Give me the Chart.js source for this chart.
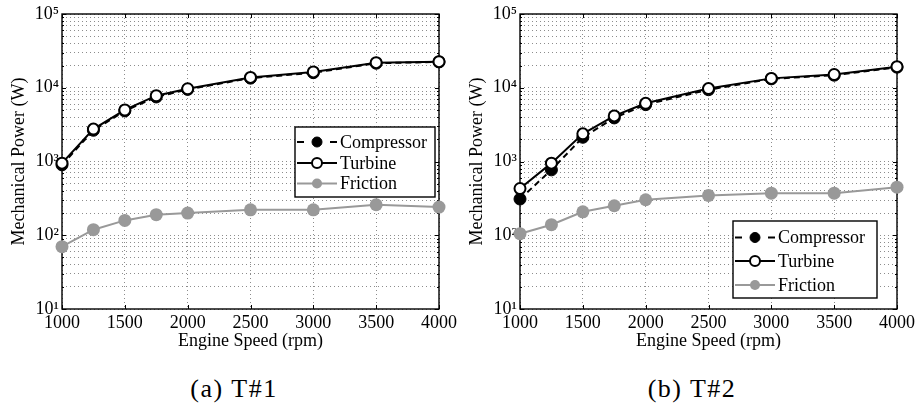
<!DOCTYPE html>
<html>
<head>
<meta charset="utf-8">
<script src="https://cdn.jsdelivr.net/npm/chart.js@4.4.1/dist/chart.umd.min.js"></script>
<style>
  html, body { margin: 0; padding: 0; background: #fff; }
  body { width: 921px; height: 412px; position: relative; overflow: hidden; font-family: 'Liberation Serif', 'DejaVu Serif', 'Times New Roman', Times, serif; }
  .panel { position: absolute; top: 0; width: 460px; height: 360px; }
  .caption { position: absolute; top: 373px; width: 200px; text-align: center; font-size: 26px; line-height: 32px; letter-spacing: 1.5px; color: #000; }
</style>
</head>
<body>
<div class="panel" style="left:0"><canvas id="chartT1" width="460" height="360"></canvas></div>
<div class="panel" style="left:458px"><canvas id="chartT2" width="460" height="360"></canvas></div>
<div class="caption" style="left:134px">(a) T#1</div>
<div class="caption" style="left:592px">(b) T#2</div>

<script>
/* engine speed (rpm) */
const speeds = [1000, 1250, 1500, 1750, 2000, 2500, 3000, 3500, 4000];

/* T#1 mechanical power (W) */
const compressorT1 = [900, 2650, 4850, 7500, 9500, 13500, 16000, 21500, 22400];
const turbineT1    = [950, 2750, 5000, 7800, 9700, 13800, 16400, 21900, 22600];
const frictionT1   = [70, 119, 159, 190, 200, 221, 221, 259, 241];

/* T#2 mechanical power (W) */
const compressorT2 = [310, 770, 2130, 3900, 5900, 9400, 13200, 14800, 19000];
const turbineT2    = [430, 950, 2370, 4150, 6150, 9750, 13400, 15100, 19300];
const frictionT2   = [105, 139, 208, 251, 303, 346, 372, 372, 449];

/* axis ticks */
const xTicks = [1000, 1500, 2000, 2500, 3000, 3500, 4000];
const yDecades = [10, 100, 1000, 10000, 100000];
const yMinorSteps = [1, 2, 3, 4, 5, 6, 7, 8, 9];

const seriesNames = ['Compressor', 'Turbine', 'Friction'];

// all log grid lines: 10,20,..,90,100,200,..,1e5
const yGrid = [];
yDecades.slice(0, -1).forEach(d => yMinorSteps.forEach(m => yGrid.push(d * m)));
yGrid.push(yDecades[yDecades.length - 1]);

const SUP = { 1: '¹', 2: '²', 3: '³', 4: '⁴', 5: '⁵' };
const FONT = { family: '"Liberation Serif", "DejaVu Serif", "Times New Roman", Times, serif', size: 18 };
const GRAY = '#999999';

function isDecade(v) {
    const e = Math.log10(v);
    return Math.abs(e - Math.round(e)) < 1e-9;
}

function points(ys) {
    return speeds.map((s, i) => ({ x: s, y: ys[i] }));
}

/* black frame round the plot area + small inward ticks */
const plotFrame = {
    id: 'plotFrame',
    beforeDatasetsDraw(chart) {
        const { ctx, chartArea: a, scales } = chart;
        ctx.save();
        ctx.strokeStyle = '#000';
        ctx.lineWidth = 1;
        ctx.beginPath();
        xTicks.forEach(v => {
            const px = Math.round(scales.x.getPixelForValue(v)) + 0.5;
            ctx.moveTo(px, a.bottom); ctx.lineTo(px, a.bottom - 4);
            ctx.moveTo(px, a.top); ctx.lineTo(px, a.top + 4);
        });
        yGrid.forEach(v => {
            const py = Math.round(scales.y.getPixelForValue(v)) + 0.5;
            const len = isDecade(v) ? 4 : 2;
            ctx.moveTo(a.left, py); ctx.lineTo(a.left + len, py);
            ctx.moveTo(a.right, py); ctx.lineTo(a.right - len, py);
        });
        ctx.stroke();
        ctx.lineWidth = 1.4;
        ctx.strokeRect(a.left, a.top, a.right - a.left, a.bottom - a.top);
        ctx.restore();
    }
};

/* boxed legend inside the plot, matlab style */
const boxLegend = {
    id: 'boxLegend',
    afterDraw(chart, args, opts) {
        const { ctx } = chart;
        const { x, y, w, h, rows } = opts;
        ctx.save();
        ctx.fillStyle = '#fff';
        ctx.fillRect(x, y, w, h);
        ctx.strokeStyle = '#000';
        ctx.lineWidth = 1.4;
        ctx.strokeRect(x, y, w, h);

        // legend rows follow the name order, not the draw order
        seriesNames.forEach((name, r) => {
            const ds = chart.data.datasets.find(d => d.label === name);
            const cy = y + rows[r];
            ctx.beginPath();
            ctx.setLineDash(ds.borderDash ? [7, 26] : []); // short dashes either side of the marker
            ctx.strokeStyle = ds.borderColor;
            ctx.lineWidth = ds.borderWidth;
            ctx.moveTo(x + 2, cy);
            ctx.lineTo(x + 42, cy);
            ctx.stroke();
            ctx.setLineDash([]);

            ctx.beginPath();
            ctx.arc(x + 22, cy, 5, 0, Math.PI * 2);
            ctx.fillStyle = ds.pointBackgroundColor;
            ctx.fill();
            if (ds.pointBorderWidth > 0) {
                ctx.lineWidth = ds.pointBorderWidth;
                ctx.strokeStyle = ds.pointBorderColor;
                ctx.stroke();
            }

            ctx.fillStyle = '#000';
            ctx.font = `${FONT.size}px ${FONT.family}`;
            ctx.textBaseline = 'middle';
            ctx.fillText(name, x + 45, cy + 1);
        });
        ctx.restore();
    }
};

function makeChart(id, comp, turb, fric, legendBox) {
    const ctx = document.getElementById(id).getContext('2d');
    return new Chart(ctx, {
        type: 'line',
        data: {
            datasets: [
                {
                    label: 'Compressor',
                    data: points(comp),
                    order: 1,
                    borderColor: '#000',
                    borderWidth: 2,
                    borderDash: [6, 4],
                    pointRadius: 6,
                    pointBackgroundColor: '#000',
                    pointBorderColor: '#000',
                    pointBorderWidth: 1,
                    clip: false
                },
                {
                    label: 'Turbine',
                    data: points(turb),
                    order: 0,
                    borderColor: '#000',
                    borderWidth: 2,
                    pointRadius: 5.5,
                    pointBackgroundColor: '#fff',
                    pointBorderColor: '#000',
                    pointBorderWidth: 2,
                    clip: false
                },
                {
                    label: 'Friction',
                    data: points(fric),
                    order: 2,
                    borderColor: GRAY,
                    borderWidth: 2,
                    pointRadius: 6.5,
                    pointBackgroundColor: GRAY,
                    pointBorderColor: GRAY,
                    pointBorderWidth: 0,
                    clip: false
                }
            ]
        },
        options: {
            responsive: false,
            animation: false,
            events: [],
            layout: { padding: { top: 14, right: 19, left: 0, bottom: 0 } },
            scales: {
                x: {
                    type: 'linear',
                    min: 1000,
                    max: 4000,
                    afterBuildTicks: s => { s.ticks = xTicks.map(v => ({ value: v })); },
                    afterFit: s => { s.height = 51; },
                    ticks: { autoSkip: false, maxRotation: 0, padding: 3, color: '#000', font: FONT, callback: v => String(v) },
                    grid: { color: '#8c8c8c', lineWidth: 1, drawTicks: false },
                    border: { display: false, dash: [1, 3] },
                    title: { display: true, text: 'Engine Speed (rpm)', color: '#000', font: FONT, padding: { top: 0, bottom: 8 } }
                },
                y: {
                    type: 'logarithmic',
                    min: 10,
                    max: 100000,
                    afterBuildTicks: s => { s.ticks = yGrid.map(v => ({ value: v })); },
                    afterFit: s => { s.width = 62; },
                    ticks: {
                        autoSkip: false,
                        padding: 3,
                        color: '#000',
                        font: FONT,
                        callback: v => isDecade(v) ? '10' + SUP[Math.round(Math.log10(v))] : ''
                    },
                    grid: { color: '#8c8c8c', lineWidth: 1, drawTicks: false },
                    border: { display: false, dash: [1, 3] },
                    title: { display: true, text: 'Mechanical Power (W)', color: '#000', font: FONT, padding: { top: 8, bottom: 0 } }
                }
            },
            plugins: {
                legend: { display: false },
                tooltip: { enabled: false },
                boxLegend: legendBox
            }
        },
        plugins: [plotFrame, boxLegend]
    });
}

makeChart('chartT1', compressorT1, turbineT1, frictionT1,
    { x: 295, y: 127, w: 140, h: 70, rows: [15, 36, 56.5] });
makeChart('chartT2', compressorT2, turbineT2, frictionT2,
    { x: 275, y: 221, w: 144, h: 77, rows: [16.5, 40, 64] });
</script>
</body>
</html>
